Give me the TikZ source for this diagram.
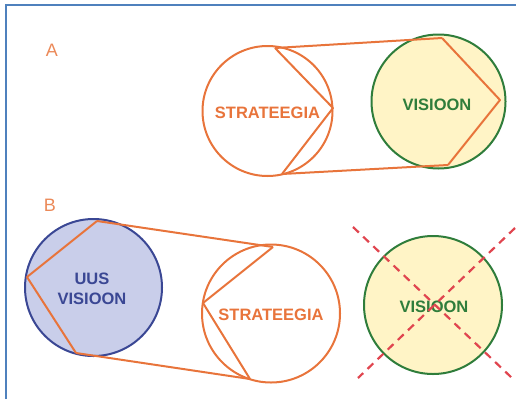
\documentclass[tikz,border=0pt]{standalone}
\usepackage{fontspec}
\setmainfont{Liberation Sans}
\definecolor{orng}{HTML}{E8743B}
\definecolor{grn}{HTML}{2F7D3B}
\definecolor{ylw}{HTML}{FFF4C6}
\definecolor{bluefill}{HTML}{C9CEEA}
\definecolor{navy}{HTML}{3A4794}
\definecolor{frameblue}{HTML}{4F81BD}
\definecolor{redd}{HTML}{E0454F}
\begin{document}
\begin{tikzpicture}[x=1pt,y=-1pt,
  orline/.style={draw=orng,line width=2pt,line join=round},
  circ/.style={circle,inner sep=0pt,line width=2pt},
  lbl/.style={font=\bfseries\fontsize{16.5}{20}\selectfont,align=center},
  letter/.style={font=\fontsize{18}{20}\selectfont,text=orng!85}]
\useasboundingbox (0,0) rectangle (516,399);
\draw[frameblue,line width=2pt] (6,399) -- (6,5) -- (516,5);
% Part A
\node[letter] (la) at (52,50) {A};
\node[circ,draw=grn,fill=ylw,minimum size=134] (va) at (438.5,101.5) {};
\node[circ,draw=orng,minimum size=130] (sa) at (267.5,111) {};
\coordinate (sat) at (275,48);
\coordinate (sap) at (333,108);
\coordinate (sab) at (282,174);
\coordinate (vat) at (442,38);
\coordinate (vap) at (500,100);
\coordinate (vab) at (448,165);
\draw[orline] (sat) -- (sap) -- (sab);
\draw[orline] (vat) -- (vap) -- (vab);
\draw[orline] (sat) -- (vat);
\draw[orline] (sab) -- (vab);
\node[lbl,text=orng] (tsa) at (267.5,113) {STRATEEGIA};
\node[lbl,text=grn] (tva) at (437,105) {VISIOON};
% Part B
\node[letter] (lb) at (50,205) {B};
\node[circ,draw=navy,fill=bluefill,minimum size=137] (ub) at (93.5,287.5) {};
\node[circ,draw=orng,minimum size=138] (sb) at (271,313.5) {};
\node[circ,draw=grn,fill=ylw,minimum size=138] (vb) at (433,305) {};
\coordinate (ubt) at (97,221);
\coordinate (ubp) at (27,277);
\coordinate (ubb) at (76,353);
\coordinate (sbt) at (273,247);
\coordinate (sbp) at (203,303);
\coordinate (sbb) at (250,379);
\draw[orline] (ubt) -- (ubp) -- (ubb);
\draw[orline] (sbt) -- (sbp) -- (sbb);
\draw[orline] (ubt) -- (sbt);
\draw[orline] (ubb) -- (sbb);
\node[lbl,text=navy] (tub) at (92,289) {UUS\\VISIOON};
\node[lbl,text=orng] (tsb) at (271,315) {STRATEEGIA};
\node[lbl,text=grn] (tvb) at (434,307) {VISIOON};
\coordinate (x1a) at (353,227);
\coordinate (x1b) at (512,378);
\coordinate (x2a) at (515,228);
\coordinate (x2b) at (358,378);
\draw[redd,line width=2.2pt,dash pattern=on 8pt off 6pt] (x1a) -- (x1b);
\draw[redd,line width=2.2pt,dash pattern=on 8pt off 6pt] (x2a) -- (x2b);
\end{tikzpicture}
\end{document}
